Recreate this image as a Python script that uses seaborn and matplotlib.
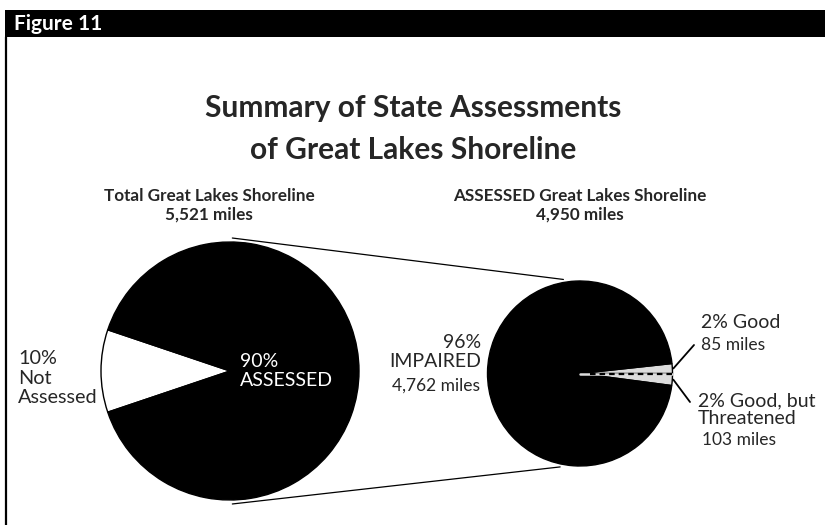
import numpy as np
import matplotlib.pyplot as plt
import seaborn as sns
from matplotlib.patches import Rectangle

sns.set_style("white")
plt.rcParams['font.family'] = ['Lato', 'DejaVu Sans']

# shoreline miles
total_labels = ["Not Assessed", "ASSESSED"]
total_miles = [571, 4950]
total_pct = [10, 90]

assessed_labels = ["Good, but Threatened", "Good", "IMPAIRED"]
assessed_miles = [103, 85, 4762]
assessed_pct = [2, 2, 96]

W, H = 825, 525
GRAY = '#dcdcdc'


def fy(y):
    # pixel row (from top) -> data y
    return H - y


fig = plt.figure(figsize=(W / 100, H / 100), dpi=100)
ax = fig.add_axes([0, 0, 1, 1])

# left pie: total shoreline
c1, r1 = (230, fy(371)), 129
not_share = total_miles[0] / sum(total_miles)
ax.pie(total_miles, colors=['white', 'black'], center=c1, radius=r1,
       startangle=180 - 180 * not_share, counterclock=True,
       wedgeprops=dict(edgecolor='black', linewidth=1), frame=False)

# right pie: assessed shoreline
c2, r2 = (580, fy(373.5)), 92.5
thr_share = assessed_miles[0] / sum(assessed_miles)
good_share = assessed_miles[1] / sum(assessed_miles)
ax.pie(assessed_miles, colors=[GRAY, GRAY, 'black'], center=c2, radius=r2,
       startangle=-360 * thr_share, counterclock=True,
       wedgeprops=dict(edgecolor='black', linewidth=1), frame=False)

ax.set_xlim(0, W)
ax.set_ylim(0, H)
ax.set_aspect('auto')
ax.axis('off')

# dashed divider between the two "good" slices
ax.plot([c2[0], c2[0] + r2 - 1], [c2[1], c2[1]], color=GRAY, lw=1.8, zorder=5)
ax.plot([c2[0] + 10, c2[0] + r2 - 1], [c2[1], c2[1]], color='black', lw=1.6,
        dashes=(2.5, 1.8), zorder=6)

# connector lines between the pies
def rim(c, r, deg):
    a = np.deg2rad(deg)
    return c[0] + r * np.cos(a), c[1] + r * np.sin(a)

for a1, a2 in [(89, 100), (-89, -102)]:
    p, q = rim(c1, r1 + 4, a1), rim(c2, r2 + 3, a2)
    ax.plot([p[0], q[0]], [p[1], q[1]], color='black', lw=0.9, zorder=0)

# header bar and frame
ax.add_patch(Rectangle((5, fy(37)), W - 5, 27, facecolor='black', edgecolor='none'))
ax.plot([5.5, 5.5], [fy(37), 0], color='black', lw=1.6)
ax.text(14, fy(23.5), "Figure 11", color='white', fontsize=15, fontweight='bold',
        ha='left', va='center')

# title
ax.text(W / 2 + 1, fy(108), "Summary of State Assessments", fontsize=21.5,
        fontweight='bold', ha='center', va='center')
ax.text(W / 2 + 1, fy(150), "of Great Lakes Shoreline", fontsize=21.5,
        fontweight='bold', ha='center', va='center')

# pie headings
ax.text(209, fy(196), "Total Great Lakes Shoreline", fontsize=12.3, fontweight='bold',
        ha='center', va='center')
ax.text(209, fy(215), f"{sum(total_miles):,} miles", fontsize=12.3, fontweight='bold',
        ha='center', va='center')
ax.text(580, fy(196), "ASSESSED Great Lakes Shoreline", fontsize=12.3, fontweight='bold',
        ha='center', va='center')
ax.text(580, fy(215), f"{sum(assessed_miles):,} miles", fontsize=12.3, fontweight='bold',
        ha='center', va='center')

# left pie labels
ax.text(18, fy(378), f"{total_pct[0]}%\nNot\nAssessed", fontsize=14.3, ha='left',
        va='center', linespacing=1.2)
ax.text(240, fy(371), f"{total_pct[1]}%\n{total_labels[1]}", fontsize=14, color='white',
        ha='left', va='center', linespacing=1.12)

# right pie labels
ax.text(481, fy(352), f"{assessed_pct[2]}%\n{assessed_labels[2]}", fontsize=14,
        ha='right', va='center', linespacing=1.12)
ax.text(480, fy(386), f"{assessed_miles[2]:,} miles", fontsize=12.5, ha='right', va='center')

ax.text(701, fy(323), f"{assessed_pct[1]}% {assessed_labels[1]}", fontsize=14,
        ha='left', va='center')
ax.text(701, fy(345), f"{assessed_miles[1]} miles", fontsize=12.5, ha='left', va='center')

ax.text(698, fy(410), f"{assessed_pct[0]}% Good, but\nThreatened", fontsize=14,
        ha='left', va='center', linespacing=1.04)
ax.text(702, fy(440), f"{assessed_miles[0]} miles", fontsize=12.5, ha='left', va='center')

# leader lines
g_mid = 360 * good_share / 2
t_mid = -360 * thr_share / 2
p = rim(c2, r2 + 1, g_mid)
ax.plot([p[0], 694], [p[1], fy(345)], color='black', lw=1.3)
p = rim(c2, r2 + 1, t_mid)
ax.plot([p[0], 690], [p[1], fy(402)], color='black', lw=1.3)

fig.savefig("out.png", dpi=100, facecolor='white')
